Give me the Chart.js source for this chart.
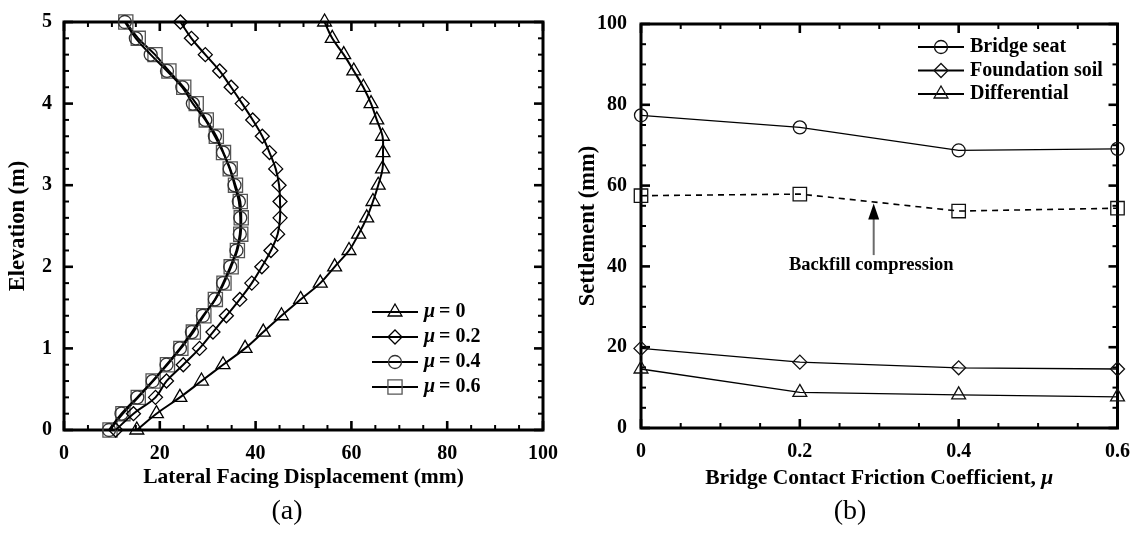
<!DOCTYPE html>
<html>
<head>
<meta charset="utf-8">
<script src="https://cdn.jsdelivr.net/npm/chart.js@4.4.0/dist/chart.umd.min.js"></script>
<style>
body{margin:0;background:#fff;width:1144px;height:533px;position:relative;overflow:hidden;}
.box{position:absolute;top:0;width:572px;height:533px;}
.cap{position:absolute;top:492px;width:100px;text-align:center;font:28px 'Liberation Serif';line-height:36px;color:#000;}
</style>
</head>
<body>
<div class="box" style="left:0"><canvas id="chartA" width="572" height="533"></canvas></div>
<div class="box" style="left:572px"><canvas id="chartB" width="572" height="533"></canvas></div>
<div class="cap" style="left:237px">(a)</div>
<div class="cap" style="left:800px">(b)</div>
<script>
// (a) lateral facing displacement profiles, elevation 0..5 m
const elevation = [0,0.2,0.4,0.6,0.8,1.0,1.2,1.4,1.6,1.8,2.0,2.2,2.4,2.6,2.8,3.0,3.2,3.4,3.6,3.8,4.0,4.2,4.4,4.6,4.8,5.0];
const dispMu0  = [15.2,19.3,24.2,28.7,33.2,37.8,41.6,45.4,49.4,53.5,56.5,59.5,61.5,63.2,64.5,65.6,66.5,66.6,66.5,65.3,64.1,62.5,60.5,58.4,56.0,54.4];
const dispMu02 = [10.8,14.5,19.1,21.4,24.9,28.3,31.1,33.9,36.7,39.2,41.3,43.2,44.6,45.1,45.1,44.9,44.2,42.9,41.4,39.4,37.2,34.9,32.5,29.5,26.6,24.3];
const dispMu04 = [9.4,12.0,15.3,18.5,21.4,24.2,26.7,29.0,31.5,33.2,34.7,36.0,36.7,36.8,36.5,35.6,34.6,33.2,31.5,29.5,26.9,24.7,21.5,18.1,15.0,12.7];
const dispMu06 = [9.6,12.3,15.5,18.6,21.6,24.4,27.0,29.2,31.6,33.4,34.9,36.2,36.9,37.0,36.8,35.8,34.7,33.3,31.8,29.7,27.6,25.0,21.9,19.0,15.5,12.9];
const legendA = ['0','0.2','0.4','0.6'];
const xTicksA = [0,20,40,60,80,100];
const yTicksA = [0,1,2,3,4,5];

// (b) settlement vs friction coefficient
const mu = [0,0.2,0.4,0.6];
const bridgeSeat   = [77.4,74.4,68.7,69.1];
const backfill     = [57.5,57.9,53.7,54.4];
const foundation   = [19.7,16.3,14.9,14.6];
const differential = [14.6,8.8,8.2,7.7];
const xTicksB = [0,0.2,0.4,0.6];
const xLabelsB = ['0','0.2','0.4','0.6'];
const yTicksB = [0,20,40,60,80,100];

Chart.defaults.font.family = "'Liberation Serif'";
Chart.defaults.color = '#000';

const tickFont = {size:20, weight:'bold', lineHeight:1};
const titleFont = {size:21.5, weight:'bold', lineHeight:1.2};
const yTitleFont = {size:22.5, weight:'bold', lineHeight:1.2};

function pts(xs, ys){ return xs.map((v,i)=>({x:v, y:ys[i]})); }

function marker(ctx, style, color, r, x, y){
  ctx.save();
  ctx.fillStyle = 'rgba(0,0,0,0)';
  ctx.strokeStyle = color;
  ctx.lineWidth = 1.3;
  Chart.helpers.drawPoint(ctx, {pointStyle:style, radius:r, rotation:0, borderWidth:1.3}, x, y);
  ctx.restore();
}

const frameTicks = {
  id:'frameTicks',
  beforeDatasetsDraw(chart, args, o){
    const {ctx, chartArea:a, scales:{x, y}} = chart;
    ctx.save();
    ctx.strokeStyle = '#000';
    const seg = (x1,y1,x2,y2)=>{ctx.beginPath();ctx.moveTo(x1,y1);ctx.lineTo(x2,y2);ctx.stroke();};
    const isMajor = (v, step)=>Math.abs(v/step - Math.round(v/step)) < 1e-6;
    for (let i = 0; x.min + i*o.xMinor <= x.max + 1e-9; i++){
      const v = x.min + i*o.xMinor, p = x.getPixelForValue(v);
      const m = isMajor(v, o.xMajor), len = m ? 9 : 5;
      ctx.lineWidth = m ? 2.6 : 2;
      seg(p, a.bottom, p, a.bottom - len);
      seg(p, a.top, p, a.top + len);
    }
    for (let i = 0; y.min + i*o.yMinor <= y.max + 1e-9; i++){
      const v = y.min + i*o.yMinor, p = y.getPixelForValue(v);
      const m = isMajor(v, o.yMajor), len = m ? 9 : 5;
      ctx.lineWidth = m ? 2.6 : 2;
      seg(a.left, p, a.left + len, p);
      seg(a.right, p, a.right - len, p);
    }
    ctx.lineWidth = 3;
    ctx.strokeRect(a.left, a.top, a.right - a.left, a.bottom - a.top);
    ctx.restore();
  }
};

const lineLegend = {
  id:'lineLegend',
  afterDraw(chart, args, o){
    const ctx = chart.ctx;
    ctx.save();
    ctx.textBaseline = 'middle';
    chart.data.datasets.forEach((ds, i)=>{
      if (ds.noLegend) return;
      const yy = o.y + i*o.dy;
      ctx.strokeStyle = '#000';
      ctx.lineWidth = o.lineWidth;
      ctx.beginPath(); ctx.moveTo(o.x, yy); ctx.lineTo(o.x + o.len, yy); ctx.stroke();
      marker(ctx, ds.pointStyle, ds.pointBorderColor, ds.pointRadius, o.x + o.len/2, yy);
      let tx = o.x + o.len + o.gap;
      ctx.fillStyle = '#000';
      if (o.mu){
        ctx.font = "italic bold 20px 'Liberation Serif'";
        ctx.fillText('\u03bc', tx, yy);
        tx += ctx.measureText('\u03bc').width + 4;
        ctx.font = "bold 20px 'Liberation Serif'";
        ctx.fillText('= ' + ds.label, tx, yy);
      } else {
        ctx.font = "bold 20px 'Liberation Serif'";
        ctx.fillText(ds.label, tx, yy);
      }
    });
    ctx.restore();
  }
};

// chart (a)
const styleA = [
  {data:dispMu0,  ps:'triangle', r:8,   c:'#000'},
  {data:dispMu02, ps:'rectRot',  r:7,   c:'#000'},
  {data:dispMu04, ps:'circle',   r:6.5, c:'#333'},
  {data:dispMu06, ps:'rect',     r:10,  c:'#555'}
];
new Chart(document.getElementById('chartA'), {
  type:'scatter',
  data:{datasets: styleA.map((s,i)=>({
    label: legendA[i],
    data: pts(s.data, elevation),
    showLine:true, tension:0.4,
    borderColor:'#000', borderWidth:2,
    pointStyle:s.ps, pointRadius:s.r, pointBorderColor:s.c, pointBackgroundColor:'rgba(0,0,0,0)',
    pointBorderWidth:1.3, clip:false
  }))},
  options:{
    responsive:false, animation:false, devicePixelRatio:1,
    layout:{padding:{left:0, right:28, top:15, bottom:43}},
    plugins:{legend:{display:false}, tooltip:{enabled:false},
      frameTicks:{xMinor:5, xMajor:20, yMinor:0.2, yMajor:1},
      lineLegend:{x:372, y:312, dy:25, len:46, gap:6, lineWidth:2, mu:true}},
    scales:{
      x:{type:'linear', min:0, max:100,
        afterBuildTicks(s){ s.ticks = xTicksA.map(v=>({value:v})); },
        afterFit(s){ s.height = 60; },
        ticks:{font:tickFont, color:'#000', padding:14, maxRotation:0, callback:v=>String(v)},
        grid:{display:false, drawTicks:false}, border:{display:false},
        title:{display:true, text:'Lateral Facing Displacement (mm)', font:titleFont, color:'#000', padding:0}},
      y:{type:'linear', min:0, max:5,
        afterBuildTicks(s){ s.ticks = yTicksA.map(v=>({value:v})); },
        afterFit(s){ s.width = 64; },
        ticks:{font:tickFont, color:'#000', padding:12, callback:v=>String(v)},
        grid:{display:false, drawTicks:false}, border:{display:false},
        title:{display:true, text:'Elevation (m)', font:yTitleFont, color:'#000', padding:{top:5, bottom:0}}}
    }
  },
  plugins:[frameTicks, lineLegend]
});

// chart (b)
const annotB = {
  id:'annotB',
  afterDatasetsDraw(chart, args, o){
    const {ctx, scales:{x, y}} = chart;
    const ax = x.getPixelForValue(o.arrowX), tip = y.getPixelForValue(o.tipY), tail = y.getPixelForValue(o.tailY);
    ctx.save();
    ctx.strokeStyle = '#6b6b6b'; ctx.lineWidth = 2;
    ctx.beginPath(); ctx.moveTo(ax, tail); ctx.lineTo(ax, tip + 14); ctx.stroke();
    ctx.fillStyle = '#000';
    ctx.beginPath(); ctx.moveTo(ax, tip); ctx.lineTo(ax - 5.5, tip + 16); ctx.lineTo(ax + 5.5, tip + 16); ctx.closePath(); ctx.fill();
    ctx.font = "bold 18.5px 'Liberation Serif'";
    ctx.textAlign = 'center'; ctx.textBaseline = 'middle';
    ctx.fillText(o.text, x.getPixelForValue(o.textX), y.getPixelForValue(o.textY));
    // x axis title with italic mu
    const a = chart.chartArea;
    const t1 = 'Bridge Contact Friction Coefficient, ';
    ctx.font = "bold 21.5px 'Liberation Serif'";
    const w1 = ctx.measureText(t1).width;
    ctx.font = "italic bold 21.5px 'Liberation Serif'";
    const w2 = ctx.measureText('\u03bc').width;
    const sx = (a.left + a.right)/2 - (w1 + w2)/2;
    ctx.textAlign = 'left';
    ctx.font = "bold 21.5px 'Liberation Serif'";
    ctx.fillText(t1, sx, o.titleY);
    ctx.font = "italic bold 21.5px 'Liberation Serif'";
    ctx.fillText('\u03bc', sx + w1, o.titleY);
    ctx.restore();
  }
};

const setsB = [
  {label:'Bridge seat',    data:bridgeSeat,   ps:'circle',   r:6.5, dash:[]},
  {label:'Foundation soil',data:foundation,   ps:'rectRot',  r:7,   dash:[]},
  {label:'Differential',   data:differential, ps:'triangle', r:8,   dash:[]},
  {label:'Backfill compression', data:backfill, ps:'rect', r:9.5, dash:[6,5], noLegend:true}
];
new Chart(document.getElementById('chartB'), {
  type:'scatter',
  data:{datasets: setsB.map(s=>({
    label:s.label, noLegend:!!s.noLegend,
    data: pts(mu, s.data),
    showLine:true, tension:0,
    borderColor:'#000', borderWidth:s.dash.length ? 1.6 : 1.3, borderDash:s.dash,
    pointStyle:s.ps, pointRadius:s.r, pointBorderColor:'#111', pointBackgroundColor:'rgba(0,0,0,0)',
    pointBorderWidth:1.3, clip:false
  }))},
  options:{
    responsive:false, animation:false, devicePixelRatio:1,
    layout:{padding:{left:0, right:23, top:12, bottom:43}},
    plugins:{legend:{display:false}, tooltip:{enabled:false},
      frameTicks:{xMinor:0.05, xMajor:0.2, yMinor:5, yMajor:20},
      lineLegend:{x:346, y:47, dy:23.5, len:46, gap:6, lineWidth:2, mu:false},
      annotB:{arrowX:0.293, tipY:55.6, tailY:42.8, textX:0.29, textY:40.4, text:'Backfill compression', titleY:478}},
    scales:{
      x:{type:'linear', min:0, max:0.6,
        afterBuildTicks(s){ s.ticks = xTicksB.map(v=>({value:v})); },
        afterFit(s){ s.height = 62; },
        ticks:{font:tickFont, color:'#000', padding:14, maxRotation:0,
          callback:(v)=>{ const k = xTicksB.findIndex(t=>Math.abs(t-v)<1e-9); return k>=0 ? xLabelsB[k] : ''; }},
        grid:{display:false, drawTicks:false}, border:{display:false},
        title:{display:false}},
      y:{type:'linear', min:0, max:100,
        afterBuildTicks(s){ s.ticks = yTicksB.map(v=>({value:v})); },
        afterFit(s){ s.width = 69; },
        ticks:{font:tickFont, color:'#000', padding:14, callback:v=>String(v)},
        grid:{display:false, drawTicks:false}, border:{display:false},
        title:{display:true, text:'Settlement (mm)', font:yTitleFont, color:'#000', padding:{top:3, bottom:0}}}
    }
  },
  plugins:[frameTicks, lineLegend, annotB]
});
</script>
</body>
</html>
